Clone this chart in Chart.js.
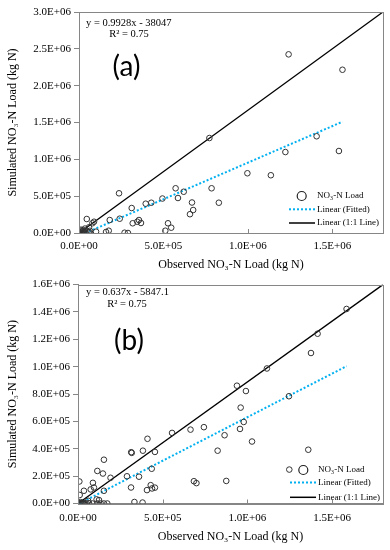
<!DOCTYPE html>
<html><head><meta charset="utf-8">
<script src="https://cdn.jsdelivr.net/npm/chart.js@4/dist/chart.umd.min.js"></script>
<style>
html,body{margin:0;padding:0;background:#fff;}
.box{position:relative;width:390px;height:275px;}
</style></head><body>
<div class="box"><canvas id="ca"></canvas></div>
<div class="box"><canvas id="cb"></canvas></div>
<script>
// ---- tick labels ----
const xTicks = [0, 500000, 1000000, 1500000];
const yTicksA = [0, 500000, 1000000, 1500000, 2000000, 2500000, 3000000];
const yTicksB = [0, 200000, 400000, 600000, 800000, 1000000, 1200000, 1400000, 1600000];

// ---- panel (a) observed / simulated NO3-N load (kg N) ----
const obsA = [237000,46000,79000,89000,182000,241000,312000,395000,428000,494000,572000,586000,620000,669000,676000,657000,
  318000,345000,355000,367000,527000,546000,511000,270000,290000,176000,160000,59000,101000,
  772000,785000,828000,997000,1136000,1222000,1407000,1539000,1241000,1560000,
  0,5000,10000,15000,20000,25000,30000,35000,40000,50000,60000,12000,65000,8000,22000];
const simA = [539000,190000,132000,153000,176000,194000,339000,398000,411000,468000,607000,475000,560000,414000,312000,255000,
  132000,153000,176000,136000,132000,72000,31000,4000,0,31000,14000,77000,18000,
  1289000,607000,411000,811000,784000,1099000,1313000,1113000,2425000,2216000,
  0,10000,30000,5000,20000,40000,10000,60000,5000,20000,10000,45000,30000,0,2000];

// ---- panel (b) ----
const obsB = [8000,35000,10000,75000,88000,94000,114000,147000,153000,153000,192000,124000,289000,314000,317000,313000,360000,
  410000,383000,454000,435000,429000,407000,437000,454000,333000,381000,555000,664000,743000,684000,699000,824000,865000,875000,
  938000,991000,960000,978000,956000,1027000,1115000,1245000,1247000,1359000,1375000,1414000,1585000,110000,
  0,5000,10000,15000,20000,25000,30000,40000,50000,65000,114000,134000,153000,173000,60000,85000];
const simB = [161000,93000,62000,103000,151000,117000,238000,219000,320000,93000,188000,25000,199000,375000,370000,117000,196000,
  473000,386000,377000,254000,134000,98000,110000,116000,11000,7000,516000,540000,558000,163000,149000,386000,499000,165000,
  861000,822000,701000,596000,545000,453000,987000,784000,248000,393000,1100000,1241000,1422000,30000,
  0,5000,0,10000,0,5000,0,3000,0,2000,0,0,0,0,20000,0];

// ---- trend lines (from the equations shown) and 1:1 line ends ----
const fitSlopeA = 0.9928, fitInterceptA = -38047, fitXA = [38300, 1560000];
const fitSlopeB = 0.637, fitInterceptB = -5847.1, fitXB = [9200, 1585000];
const refXA = [0, 1800000], refYA = [0, 3000000];
const refXB = [0, 1800000], refYB = [0, 1600000];

const eqA = ['y = 0.9928x - 38047', 'R\u00B2 = 0.75'];
const eqB = ['y = 0.637x - 5847.1', 'R\u00B2 = 0.75'];
const legendLabels = ['NO\u2083-N Load', 'Linear (Fitted)', 'Linear (1:1 Line)'];

function sci(v){
  if (v === 0) return '0.0E+00';
  const e = Math.floor(Math.log10(Math.abs(v)) + 1e-9);
  const m = v / Math.pow(10, e);
  return m.toFixed(1) + 'E+' + String(e).padStart(2, '0');
}

const SERIF = 'Liberation Serif, Times New Roman, serif';
const AXC = '#868686';

function decorPlugin(c){
  return {
    id: 'decor',
    afterDraw(chart){
      const ctx = chart.ctx, a = chart.chartArea, xs = chart.scales.x;
      ctx.save();
      // inward x ticks
      ctx.strokeStyle = AXC; ctx.lineWidth = 1;
      xTicks.forEach(v => {
        const px = Math.round(xs.getPixelForValue(v)) + 0.5;
        ctx.beginPath(); ctx.moveTo(px, a.bottom); ctx.lineTo(px, a.bottom - 4); ctx.stroke();
      });
      // border box
      ctx.strokeStyle = AXC;
      ctx.strokeRect(Math.round(a.left) + 0.5, Math.round(a.top) + 0.5, Math.round(a.right - a.left), Math.round(a.bottom - a.top));
      // equation
      ctx.fillStyle = '#000';
      ctx.font = '10.5px ' + SERIF;
      ctx.textBaseline = 'middle';
      ctx.textAlign = 'left';
      ctx.fillText(c.eq[0], c.eqX, c.eqY1);
      ctx.textAlign = 'center';
      ctx.fillText(c.eq[1], c.r2X, c.eqY2);
      // panel label
      ctx.font = '28px Lato, "Open Sans", sans-serif';
      ctx.fillText(c.panel, c.panelX, c.panelY);
      // legend
      const L = c.leg;
      ctx.textAlign = 'left';
      ctx.font = '9px ' + SERIF;
      ctx.strokeStyle = '#222'; ctx.lineWidth = 1.2;
      ctx.beginPath(); ctx.arc(L.cx, L.rows[0], 4.5, 0, Math.PI * 2); ctx.stroke();
      ctx.strokeStyle = '#00B0F0'; ctx.lineWidth = 2; ctx.setLineDash([2, 2]);
      ctx.beginPath(); ctx.moveTo(L.x0, L.rows[1]); ctx.lineTo(L.x1, L.rows[1]); ctx.stroke();
      ctx.setLineDash([]);
      ctx.strokeStyle = '#000'; ctx.lineWidth = 1.5;
      ctx.beginPath(); ctx.moveTo(L.x0, L.rows[2]); ctx.lineTo(L.x1, L.rows[2]); ctx.stroke();
      ctx.fillStyle = '#000';
      legendLabels.forEach((t, i) => ctx.fillText(t, L.tx, L.rows[i]));
      ctx.restore();
    }
  };
}

function makeChart(id, c){
  const pts = c.obs.map((x, i) => ({x: x, y: c.sim[i]}));
  const fit = c.fitX.map(x => ({x: x, y: c.slope * x + c.intercept}));
  const ref = c.refX.map((x, i) => ({x: x, y: c.refY[i]}));
  const tickFont = {family: SERIF, size: 11};
  const titleFont = {family: SERIF, size: 12};
  return new Chart(document.getElementById(id), {
    type: 'scatter',
    data: {datasets: [
      {label: legendLabels[0], data: pts, pointRadius: 2.8, pointHoverRadius: 2.8, borderColor: '#333', backgroundColor: 'rgba(0,0,0,0)', borderWidth: 1},
      {label: legendLabels[1], data: fit, showLine: true, pointRadius: 0, borderColor: '#00B0F0', borderWidth: 2, borderDash: [2, 2], fill: false},
      {label: legendLabels[2], data: ref, showLine: true, pointRadius: 0, borderColor: '#000', borderWidth: 1.3, fill: false}
    ]},
    options: {
      responsive: true, maintainAspectRatio: false, animation: false,
      layout: {padding: {top: c.top, right: 7, left: 0, bottom: 0}},
      plugins: {legend: {display: false}, tooltip: {enabled: false}},
      scales: {
        x: {
          type: 'linear', min: 0, max: 1800000,
          afterBuildTicks: s => { s.ticks = xTicks.map(v => ({value: v})); },
          afterFit: s => { s.height = c.xh; },
          grid: {display: true, drawOnChartArea: false, drawTicks: false, color: AXC},
          border: {display: true, color: AXC},
          ticks: {callback: v => sci(v), font: tickFont, color: '#000', padding: c.xtpad, maxRotation: 0, autoSkip: false},
          title: {display: true, text: 'Observed NO\u2083-N Load (kg N)', font: titleFont, color: '#000', padding: {top: 0, bottom: c.xtitlePad}}
        },
        y: {
          type: 'linear', min: 0, max: c.ymax,
          afterBuildTicks: s => { s.ticks = c.yTicks.map(v => ({value: v})); },
          afterFit: s => { s.width = c.yw; },
          grid: {display: true, drawOnChartArea: false, drawTicks: true, tickLength: 5, color: AXC},
          border: {display: true, color: AXC},
          ticks: {callback: v => sci(v), font: tickFont, color: '#000', padding: 3, autoSkip: false},
          title: {display: true, text: 'Simulated NO\u2083-N Load (kg N)', font: titleFont, color: '#000', padding: {top: 6, bottom: 0}}
        }
      }
    },
    plugins: [decorPlugin(c)]
  });
}

makeChart('ca', {
  obs: obsA, sim: simA, slope: fitSlopeA, intercept: fitInterceptA, fitX: fitXA, refX: refXA, refY: refYA,
  ymax: 3000000, yTicks: yTicksA, top: 12, xh: 42, yw: 79, xtpad: 7, xtitlePad: 3,
  eq: eqA, eqX: 86, eqY1: 23, r2X: 129, eqY2: 34.5, panel: '(a)', panelX: 126.5, panelY: 67,
  leg: {cx: 301.7, x0: 289, x1: 315, tx: 317, rows: [196, 209.3, 223]}
});
makeChart('cb', {
  obs: obsB, sim: simB, slope: fitSlopeB, intercept: fitInterceptB, fitX: fitXB, refX: refXB, refY: refYB,
  ymax: 1600000, yTicks: yTicksB, top: 8, xh: 46.5, yw: 78, xtpad: 8, xtitlePad: 6,
  eq: eqB, eqX: 86, eqY1: 17, r2X: 127, eqY2: 29, panel: '(b)', panelX: 129, panelY: 66,
  leg: {cx: 303.3, x0: 290, x1: 316, tx: 318, rows: [195, 207.5, 222.3]}
});
</script>
</body></html>
